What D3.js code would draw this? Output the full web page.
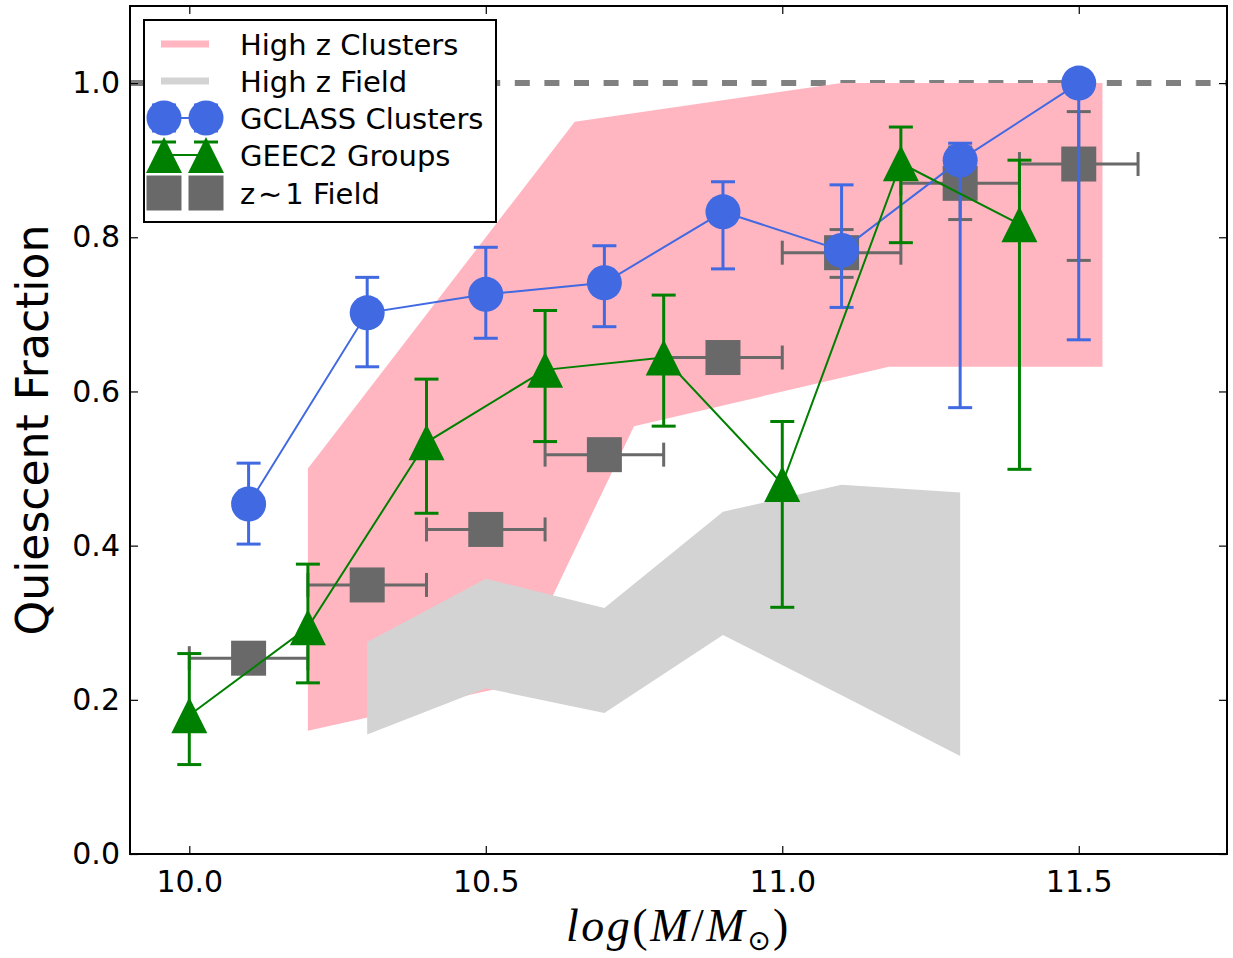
<!DOCTYPE html>
<html>
<head>
<meta charset="utf-8">
<script src="https://cdn.jsdelivr.net/npm/d3@7"></script>
<style>
  html, body { margin: 0; padding: 0; background: #fff; }
  svg { display: block; }
</style>
</head>
<body>
<svg id="chart" width="1233" height="958"></svg>
<script>
// ---- data: quiescent fraction vs stellar mass ----

// GCLASS clusters
const gclassMass = [10.1, 10.3, 10.5, 10.7, 10.9, 11.1, 11.3, 11.5];
const gclassFrac = [0.454, 0.702, 0.726, 0.741, 0.833, 0.783, 0.900, 1.000];
const gclassHi   = [0.507, 0.748, 0.787, 0.789, 0.872, 0.868, 0.922, 1.000];
const gclassLo   = [0.402, 0.632, 0.669, 0.684, 0.759, 0.709, 0.579, 0.667];

// GEEC2 groups
const geecMass = [10.0, 10.2, 10.4, 10.6, 10.8, 11.0, 11.2, 11.4];
const geecFrac = [0.180, 0.294, 0.534, 0.628, 0.644, 0.480, 0.896, 0.817];
const geecHi   = [0.260, 0.376, 0.616, 0.705, 0.725, 0.561, 0.943, 0.900];
const geecLo   = [0.116, 0.222, 0.442, 0.535, 0.555, 0.320, 0.793, 0.499];

// z~1 field (bin half-width in mass, asymmetric fraction errors)
const fieldMass    = [10.1, 10.3, 10.5, 10.7, 10.9, 11.1, 11.3, 11.5];
const fieldFrac    = [0.254, 0.349, 0.421, 0.518, 0.644, 0.780, 0.870, 0.895];
const fieldMassErr = [0.1, 0.1, 0.1, 0.1, 0.1, 0.1, 0.1, 0.1];
const fieldErrHi   = [0, 0, 0, 0, 0, 0.030, 0.047, 0.068];
const fieldErrLo   = [0, 0, 0, 0, 0, 0.032, 0.047, 0.125];

// high-z cluster envelope (upper and lower boundaries)
const hzClusterUpperMass = [10.2, 10.65, 11.1, 11.54];
const hzClusterUpper     = [0.50, 0.95, 1.00, 1.00];
const hzClusterLowerMass = [10.2, 10.54, 10.75, 11.18, 11.54];
const hzClusterLower     = [0.16, 0.218, 0.555, 0.632, 0.632];

// high-z field envelope
const hzFieldMass  = [10.3, 10.5, 10.7, 10.9, 11.1, 11.3];
const hzFieldUpper = [0.275, 0.357, 0.319, 0.444, 0.479, 0.469];
const hzFieldLower = [0.155, 0.215, 0.183, 0.284, 0.206, 0.127];

// axes
const xTicks = [10.0, 10.5, 11.0, 11.5];
const yTicks = [0.0, 0.2, 0.4, 0.6, 0.8, 1.0];
const legendLabels = ["High z Clusters", "High z Field", "GCLASS Clusters", "GEEC2 Groups", "z\u200A\u223C\u200A1 Field"];

// ---- layout ----
const svg = d3.select("#chart");
const L = 130, R = 1227, T = 6, B = 854;
const x = d3.scaleLinear().domain([9.9, 11.75]).range([L, R]);
const y = d3.scaleLinear().domain([0, 1.1]).range([B, T]);

const colPink = "#FFB6C1", colLight = "#D3D3D3", colBlue = "#4169E1",
      colGreen = "#008000", colDim = "#696969", colRef = "#808080";
const sans = "'DejaVu Sans', sans-serif";

svg.append("defs").append("clipPath").attr("id", "plotclip")
  .append("rect").attr("x", L).attr("y", T).attr("width", R - L).attr("height", B - T);

const plot = svg.append("g").attr("clip-path", "url(#plotclip)");

// reference line at fraction = 1
plot.append("line")
  .attr("x1", x(9.9)).attr("x2", x(11.75))
  .attr("y1", y(1)).attr("y2", y(1))
  .attr("stroke", colRef).attr("stroke-width", 6)
  .attr("stroke-dasharray", "15,14.6");

// envelopes
function envelope(upperX, upperY, lowerX, lowerY) {
  const pts = upperX.map((m, i) => [x(m), y(upperY[i])]);
  for (let i = lowerX.length - 1; i >= 0; i--) pts.push([x(lowerX[i]), y(lowerY[i])]);
  return "M" + pts.map(p => p.join(",")).join("L") + "Z";
}
plot.append("path")
  .attr("d", envelope(hzClusterUpperMass, hzClusterUpper, hzClusterLowerMass, hzClusterLower))
  .attr("fill", colPink);
plot.append("path")
  .attr("d", envelope(hzFieldMass, hzFieldUpper, hzFieldMass, hzFieldLower))
  .attr("fill", colLight);

const capHalf = 12, errW = 3;

function vErr(g, cx, yHi, yLo, color) {
  g.append("line").attr("x1", cx).attr("x2", cx).attr("y1", yHi).attr("y2", yLo)
    .attr("stroke", color).attr("stroke-width", errW);
  [yHi, yLo].forEach(cy => g.append("line")
    .attr("x1", cx - capHalf).attr("x2", cx + capHalf).attr("y1", cy).attr("y2", cy)
    .attr("stroke", color).attr("stroke-width", errW));
}
function hErr(g, cy, xL, xR, color) {
  g.append("line").attr("x1", xL).attr("x2", xR).attr("y1", cy).attr("y2", cy)
    .attr("stroke", color).attr("stroke-width", errW);
  [xL, xR].forEach(cx => g.append("line")
    .attr("x1", cx).attr("x2", cx).attr("y1", cy - capHalf).attr("y2", cy + capHalf)
    .attr("stroke", color).attr("stroke-width", errW));
}

const markerSize = 35;
function triPath(s) {
  // upright triangle, width s, height s, centred on its mid-height
  const h = s / 2;
  return `M0,${-h}L${h},${h}L${-h},${h}Z`;
}

// z~1 field squares
const gField = plot.append("g");
fieldMass.forEach((m, i) => {
  hErr(gField, y(fieldFrac[i]), x(m - fieldMassErr[i]), x(m + fieldMassErr[i]), colDim);
  if (fieldErrHi[i] > 0 || fieldErrLo[i] > 0)
    vErr(gField, x(m), y(fieldFrac[i] + fieldErrHi[i]), y(fieldFrac[i] - fieldErrLo[i]), colDim);
});
gField.selectAll("rect.sq").data(fieldMass).enter().append("rect")
  .attr("x", (d) => x(d) - markerSize / 2)
  .attr("y", (d, i) => y(fieldFrac[i]) - markerSize / 2)
  .attr("width", markerSize).attr("height", markerSize)
  .attr("fill", colDim);

// GCLASS clusters
const gBlue = plot.append("g");
gclassMass.forEach((m, i) => vErr(gBlue, x(m), y(gclassHi[i]), y(gclassLo[i]), colBlue));
gBlue.append("path")
  .attr("d", d3.line().x((d) => x(d)).y((d, i) => y(gclassFrac[i]))(gclassMass))
  .attr("fill", "none").attr("stroke", colBlue).attr("stroke-width", 2);
gBlue.selectAll("circle").data(gclassMass).enter().append("circle")
  .attr("cx", (d) => x(d)).attr("cy", (d, i) => y(gclassFrac[i]))
  .attr("r", markerSize / 2).attr("fill", colBlue);

// GEEC2 groups
const gGreen = plot.append("g");
geecMass.forEach((m, i) => vErr(gGreen, x(m), y(geecHi[i]), y(geecLo[i]), colGreen));
gGreen.append("path")
  .attr("d", d3.line().x((d) => x(d)).y((d, i) => y(geecFrac[i]))(geecMass))
  .attr("fill", "none").attr("stroke", colGreen).attr("stroke-width", 2);
gGreen.selectAll("path.tri").data(geecMass).enter().append("path")
  .attr("class", "tri")
  .attr("transform", (d, i) => `translate(${x(d)},${y(geecFrac[i])})`)
  .attr("d", triPath(36)).attr("fill", colGreen);

// ---- axes ----
const fmt = d3.format(".1f");
const axB = svg.append("g").attr("transform", `translate(0,${B})`)
  .call(d3.axisBottom(x).tickValues(xTicks).tickFormat(fmt).tickSizeInner(-8).tickSizeOuter(0).tickPadding(17));
const axL = svg.append("g").attr("transform", `translate(${L},0)`)
  .call(d3.axisLeft(y).tickValues(yTicks).tickFormat(fmt).tickSizeInner(-8).tickSizeOuter(0).tickPadding(10));
const axT = svg.append("g").attr("transform", `translate(0,${T})`)
  .call(d3.axisTop(x).tickValues(xTicks).tickFormat("").tickSizeInner(-8).tickSizeOuter(0));
const axR = svg.append("g").attr("transform", `translate(${R},0)`)
  .call(d3.axisRight(y).tickValues(yTicks).tickFormat("").tickSizeInner(-8).tickSizeOuter(0));
[axB, axL, axT, axR].forEach(a => {
  a.select(".domain").remove();
  a.selectAll(".tick line").attr("stroke", "#000").attr("stroke-width", 1.2);
  a.selectAll(".tick text").style("font-family", sans).style("font-size", "30px").attr("fill", "#000");
});

svg.append("rect").attr("x", L).attr("y", T).attr("width", R - L).attr("height", B - T)
  .attr("fill", "none").attr("stroke", "#000").attr("stroke-width", 2);

// axis titles
svg.append("text")
  .attr("transform", `translate(48,${(T + B) / 2}) rotate(-90)`)
  .attr("text-anchor", "middle")
  .style("font-family", sans).style("font-size", "44px")
  .text("Quiescent Fraction");

const serif = "'Liberation Serif', 'DejaVu Serif', serif";
const xl = svg.append("text")
  .attr("x", (L + R) / 2).attr("y", 941)
  .attr("text-anchor", "middle")
  .style("font-family", serif).style("font-size", "46px").style("letter-spacing", "2.5px");
xl.append("tspan").style("font-style", "italic").text("log");
xl.append("tspan").text("(");
xl.append("tspan").style("font-style", "italic").text("M");
xl.append("tspan").text("/");
xl.append("tspan").style("font-style", "italic").text("M");
xl.append("tspan").style("font-family", sans).style("font-size", "28px").attr("dy", 9).text("\u2299");
xl.append("tspan").attr("dy", -9).text(")");

// ---- legend ----
const lg = svg.append("g");
lg.append("rect").attr("x", 144).attr("y", 20).attr("width", 352).attr("height", 202)
  .attr("fill", "#fff").attr("stroke", "#000").attr("stroke-width", 2);
const rowY = [44, 81, 118, 155, 193];
const hx1 = 164, hx2 = 206;
lg.append("line").attr("x1", 161).attr("x2", 209).attr("y1", rowY[0]).attr("y2", rowY[0])
  .attr("stroke", colPink).attr("stroke-width", 7);
lg.append("line").attr("x1", 161).attr("x2", 209).attr("y1", rowY[1]).attr("y2", rowY[1])
  .attr("stroke", colLight).attr("stroke-width", 7);
// GCLASS handle
lg.append("line").attr("x1", hx1).attr("x2", hx2).attr("y1", rowY[2]).attr("y2", rowY[2])
  .attr("stroke", colBlue).attr("stroke-width", 2);
[hx1, hx2].forEach(hx => {
  vErr(lg, hx, rowY[2] - 13, rowY[2] + 13, colBlue);
  lg.append("circle").attr("cx", hx).attr("cy", rowY[2]).attr("r", markerSize / 2).attr("fill", colBlue);
});
// GEEC2 handle
lg.append("line").attr("x1", hx1).attr("x2", hx2).attr("y1", rowY[3]).attr("y2", rowY[3])
  .attr("stroke", colGreen).attr("stroke-width", 2);
[hx1, hx2].forEach(hx => {
  lg.append("path").attr("transform", `translate(${hx},${rowY[3]})`).attr("d", triPath(36)).attr("fill", colGreen);
  vErr(lg, hx, rowY[3] - 13, rowY[3] + 13, colGreen);
});
// field handle
[hx1, hx2].forEach(hx => {
  lg.append("rect").attr("x", hx - markerSize / 2).attr("y", rowY[4] - markerSize / 2)
    .attr("width", markerSize).attr("height", markerSize).attr("fill", colDim);
});
legendLabels.forEach((t, i) => {
  lg.append("text").attr("x", 240).attr("y", rowY[i] + 11)
    .style("font-family", sans).style("font-size", "29px").text(t);
});
</script>
</body>
</html>
